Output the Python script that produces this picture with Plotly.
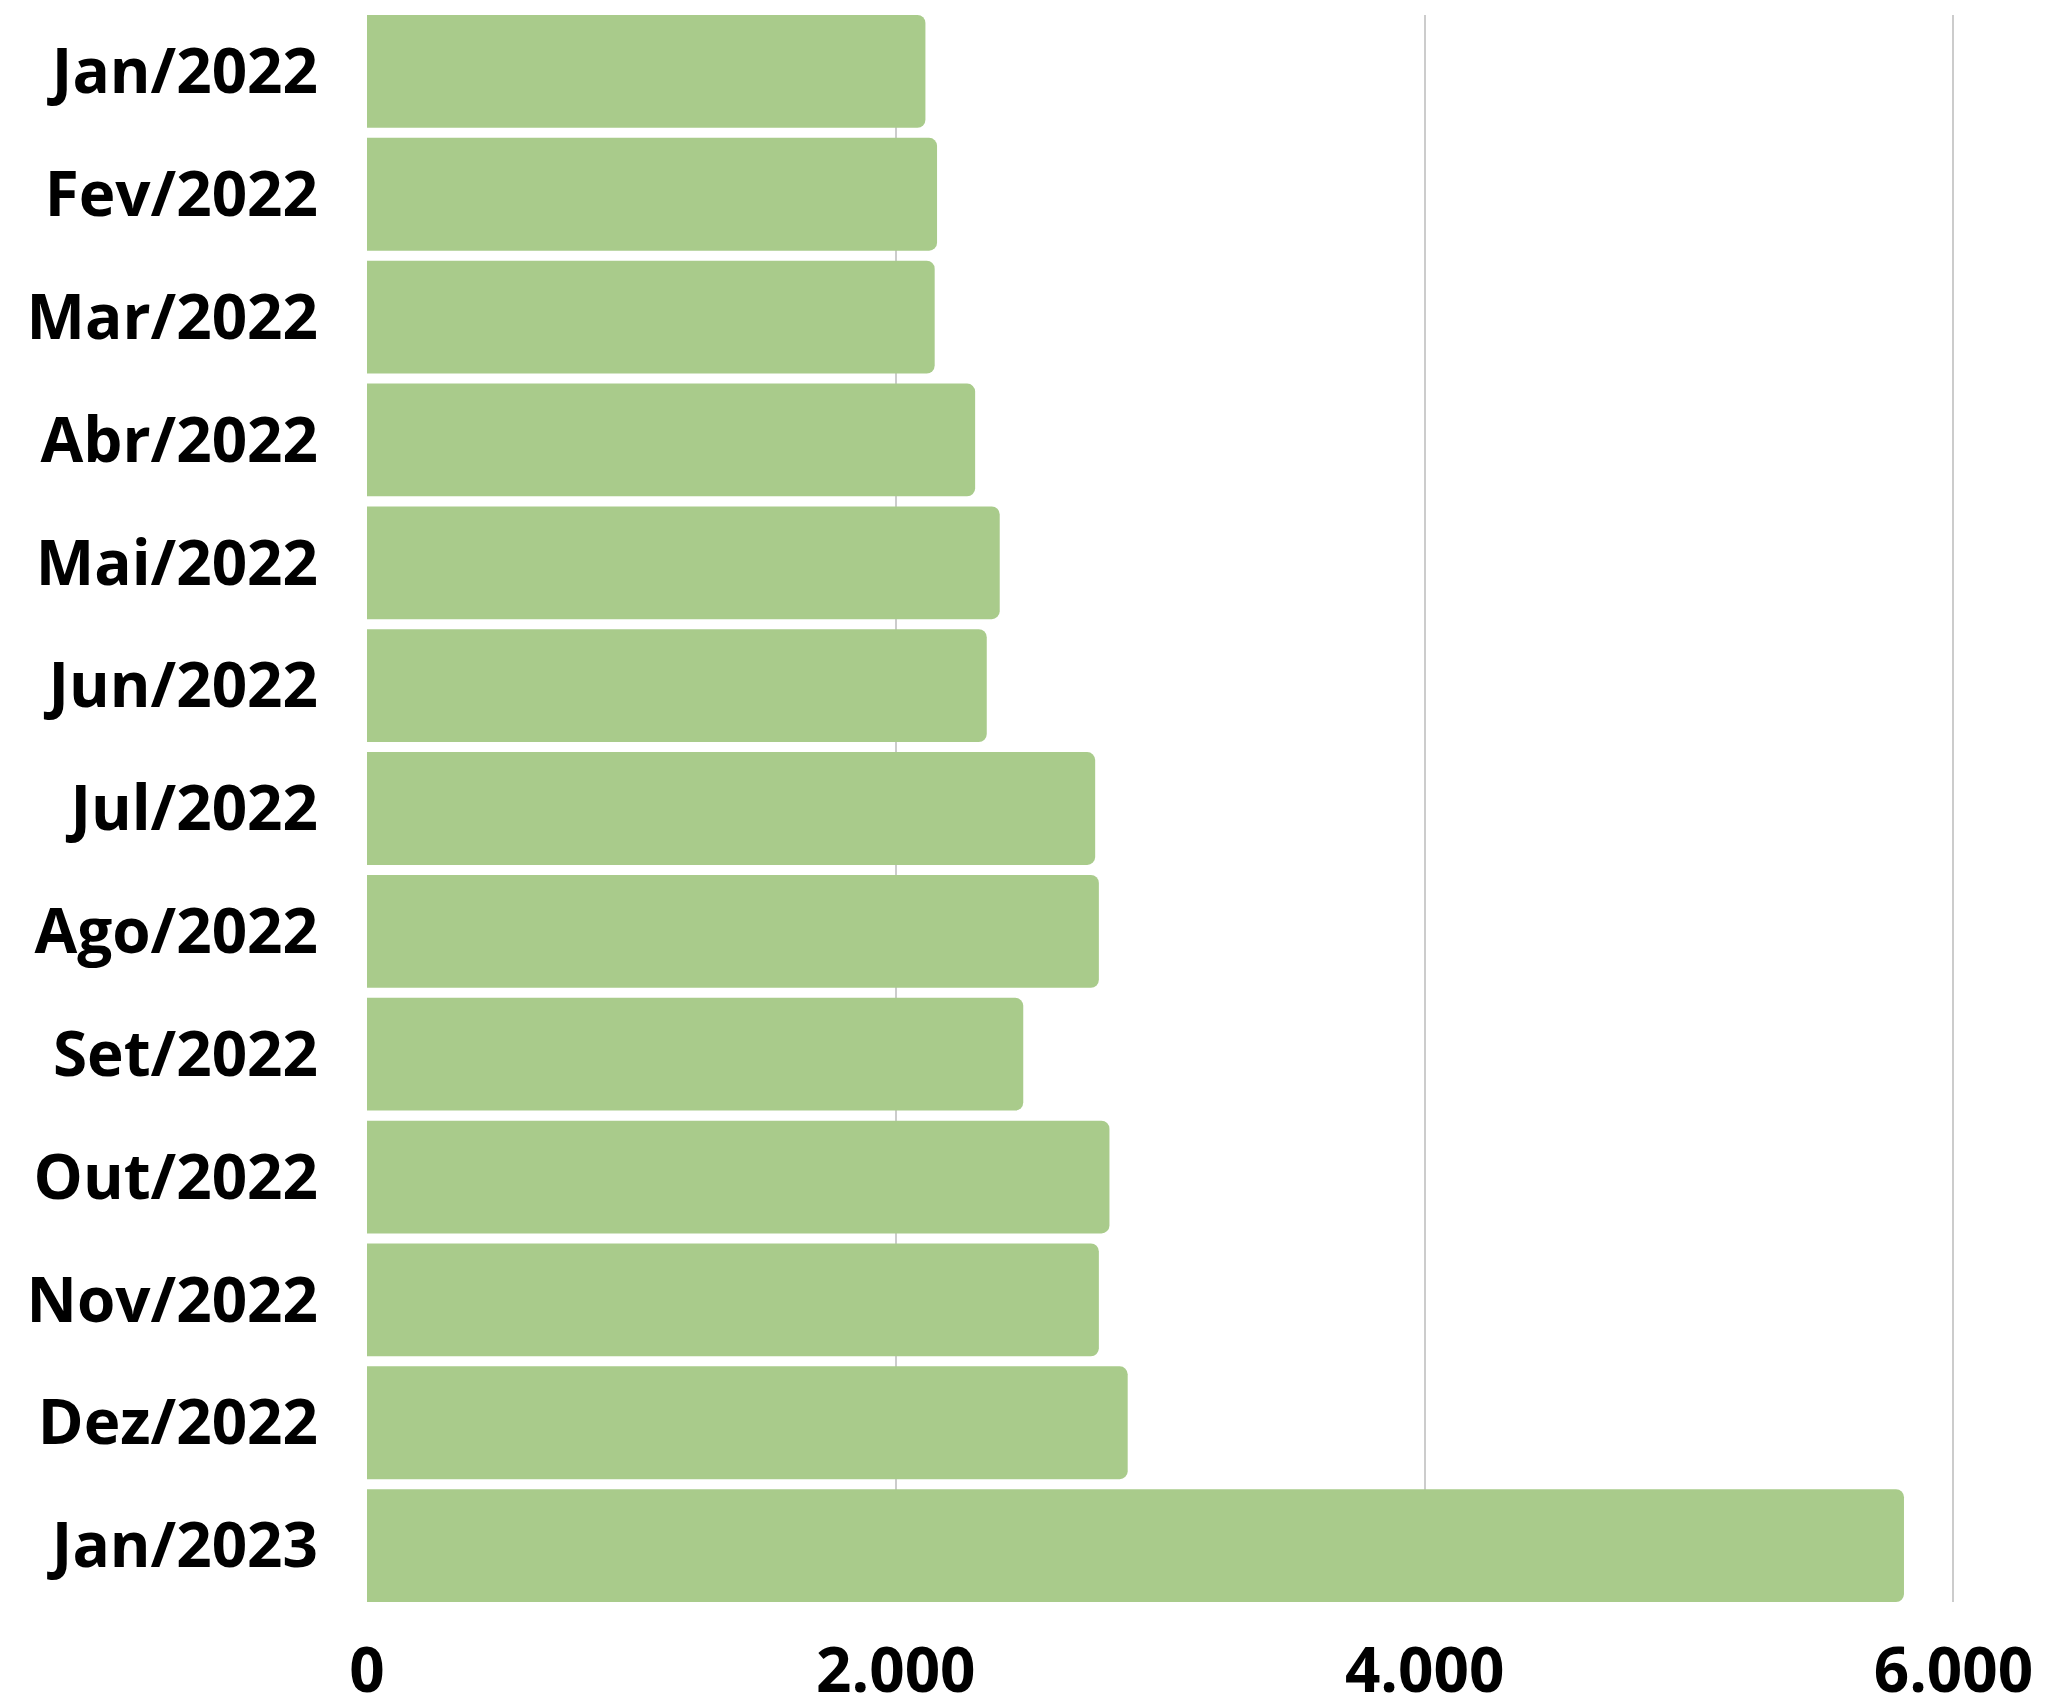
import plotly.graph_objects as go

months = ["Jan/2022", "Fev/2022", "Mar/2022", "Abr/2022", "Mai/2022", "Jun/2022",
          "Jul/2022", "Ago/2022", "Set/2022", "Out/2022", "Nov/2022", "Dez/2022", "Jan/2023"]
values = [2112, 2156, 2147, 2300, 2393, 2344, 2754, 2768, 2482, 2808, 2768, 2877, 5813]
tick_values = [0, 2000, 4000, 6000]

gap = 0.082
n = len(months)

fig = go.Figure(go.Bar(
    x=values, y=months, orientation="h",
    marker=dict(color="#A9CB8B", line=dict(width=0)),
))

fig.update_layout(
    width=2037, height=1689,
    margin=dict(l=359, r=81, t=7, b=95, autoexpand=False),
    paper_bgcolor="white", plot_bgcolor="white",
    bargap=gap,
    barcornerradius=8,
    separators=",.",
    showlegend=False,
    font=dict(family="Open Sans", size=62, color="black", weight="bold"),
)
fig.update_xaxes(
    range=[0, 6040], tickvals=tick_values, tickformat=",",
    showgrid=True, gridcolor="#CCCCCC", gridwidth=2,
    zeroline=False, showline=False, ticks="", automargin=False,
    ticklabelstandoff=27,
    tickfont=dict(family="Open Sans", size=62, color="black", weight="bold"),
)
fig.update_yaxes(
    range=[n - 0.5 - gap / 2, -0.5 + gap / 2],
    showgrid=False, zeroline=False, showline=False, ticks="",
    automargin=False,
    ticklabelstandoff=48,
    tickfont=dict(family="Open Sans", size=62, color="black", weight="bold"),
)

fig.write_html("out.html")
